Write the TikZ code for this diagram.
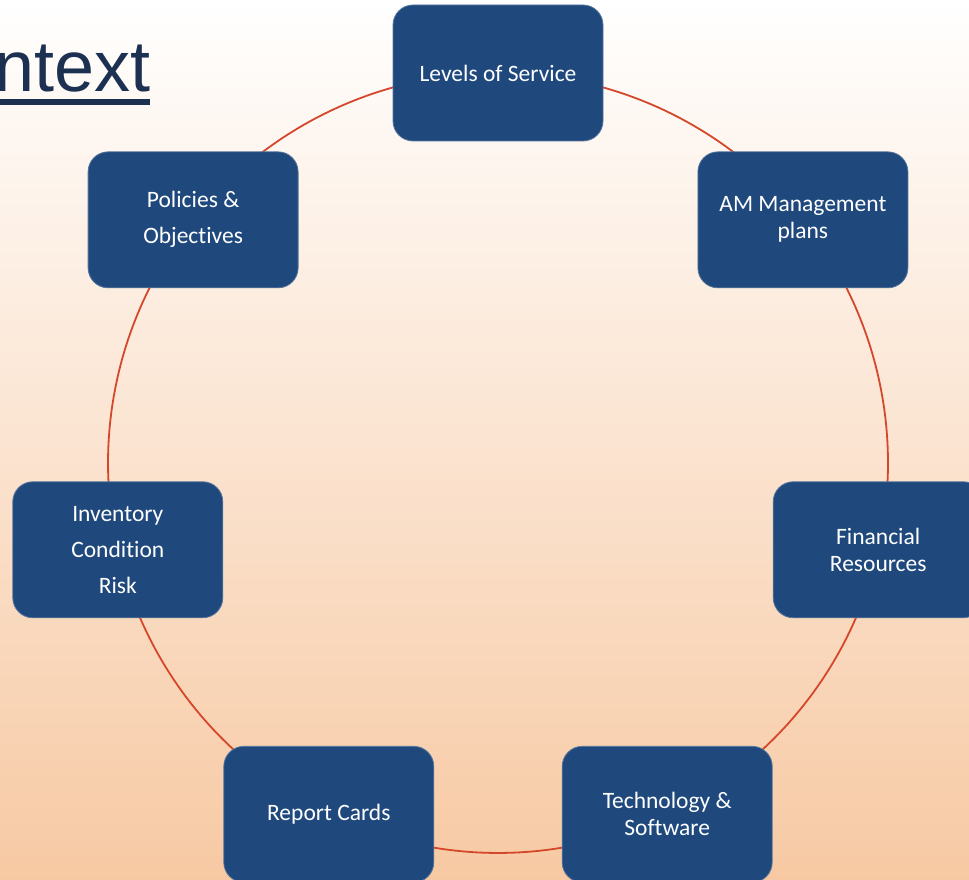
\documentclass[tikz,border=0pt]{standalone}
\usepackage{fontspec}
\setmainfont{Carlito}[Ligatures=CommonOff]
\newfontfamily\titlefont{Liberation Sans}
\definecolor{boxblue}{HTML}{1F497D}
\definecolor{ringred}{HTML}{D5472A}
\definecolor{titleblue}{HTML}{1C3152}
\definecolor{peach}{HTML}{F7C9A3}
\pgfdeclarelayer{back}
\pgfdeclarelayer{ringlayer}
\pgfsetlayers{back,ringlayer,main}
\tikzset{
  stage/.style={rectangle, rounded corners=20pt, fill=boxblue, draw=boxblue!75!white, line width=0.8pt,
    minimum width=210pt, minimum height=136pt, text=white, align=center,
    font=\fontsize{23.5}{27}\selectfont},
  ring/.style={ringred, line width=1.8pt}
}
\begin{document}
\begin{tikzpicture}[x=1pt,y=1pt]
\useasboundingbox (0,0) rectangle (969,880);
\clip (0,0) rectangle (969,880);
\coordinate (hub) at (498,417);
% title, cut at the left edge
\node[anchor=base west, inner sep=0pt, text=titleblue, font=\titlefont\fontsize{72}{80}\selectfont] (title) at (-6,788) {ntext};
\fill[titleblue] ([yshift=-7pt]title.base west) rectangle ([yshift=-13pt]title.base east);
% stages round the cycle
\foreach \txt [count=\i] in {{Levels of Service},{AM Management\\plans},{Financial\\Resources},
    {Technology \&\\Software},{Report Cards},{Inventory\\[9pt]Condition\\[9pt]Risk},{Policies \&\\[9pt]Objectives}}
  \path (hub) ++({90-(\i-1)*360/7}:390) node[stage] (s\i) {\txt};
% arcs from each stage to the next
\begin{pgfonlayer}{ringlayer}
\foreach \i in {1,...,7}
  \draw[ring] (s\i.center) arc[start angle={90-(\i-1)*360/7}, delta angle=-360/7, radius=390];
\end{pgfonlayer}
\begin{pgfonlayer}{back}
\shade[top color=white, bottom color=peach] (0,0) rectangle (969,880);
\end{pgfonlayer}
\end{tikzpicture}
\end{document}
